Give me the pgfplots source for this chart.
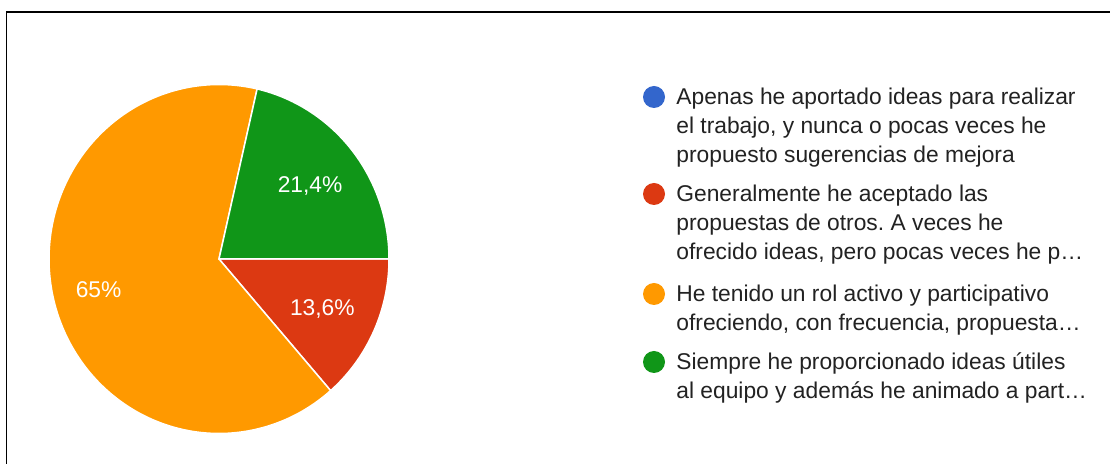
\documentclass[border=0pt]{standalone}
\usepackage{fontspec}
\setmainfont{Liberation Sans}
\usepackage{pgfplots}
\usepackage{pgfplotstable}
\pgfplotsset{compat=1.18}
\definecolor{gBlue}{HTML}{3366CC}
\definecolor{gRed}{HTML}{DC3912}
\definecolor{gOrange}{HTML}{FF9900}
\definecolor{gGreen}{HTML}{109618}
\definecolor{txt}{HTML}{222222}
\frenchspacing

% share of answers per option (percent), label radius
\pgfplotstableread{
pct  lr
0    0.69
13.6 0.668
65   0.73
21.4 0.685
}\piedata

\pgfplotstablegetelem{0}{pct}\of\piedata \let\pA\pgfplotsretval
\pgfplotstablegetelem{1}{pct}\of\piedata \let\pB\pgfplotsretval
\pgfplotstablegetelem{2}{pct}\of\piedata \let\pC\pgfplotsretval
\pgfplotstablegetelem{3}{pct}\of\piedata \let\pD\pgfplotsretval
\pgfplotstablegetelem{1}{lr}\of\piedata \let\lB\pgfplotsretval
\pgfplotstablegetelem{2}{lr}\of\piedata \let\lC\pgfplotsretval
\pgfplotstablegetelem{3}{lr}\of\piedata \let\lD\pgfplotsretval

% slices start at 3 o'clock and run clockwise
\pgfmathsetmacro\aBs{-3.6*\pA}
\pgfmathsetmacro\aCs{\aBs-3.6*\pB}
\pgfmathsetmacro\aDs{\aCs-3.6*\pC}
\pgfmathsetmacro\aDe{\aDs-3.6*\pD}
\pgfmathsetmacro\mB{(\aBs+\aCs)/2}
\pgfmathsetmacro\mC{(\aCs+\aDs)/2}
\pgfmathsetmacro\mD{(\aDs+\aDe)/2}

\newcommand\lblfont{\fontsize{11.4pt}{14.5pt}\selectfont}

\begin{document}
\begin{tikzpicture}
\useasboundingbox (0,0) rectangle (555pt,-232pt);
\fill[white] (0,0) rectangle (555pt,-232pt);

\begin{axis}[at={(109.5pt,-129.5pt)}, anchor=center,
  x=85pt, y=87.25pt, xmin=-1, xmax=1, ymin=-1, ymax=1,
  hide axis, clip=false,
  every axis plot/.append style={draw=white, line width=0.75pt, variable=\t}]
  \addplot[fill=gRed, domain=\aCs:\aBs, samples=60] ({cos(\t)},{sin(\t)}) -- (0,0) -- cycle;
  \addplot[fill=gOrange, domain=\aDs:\aCs, samples=180] ({cos(\t)},{sin(\t)}) -- (0,0) -- cycle;
  \addplot[fill=gGreen, domain=\aDe:\aDs, samples=80] ({cos(\t)},{sin(\t)}) -- (0,0) -- cycle;

  \node[anchor=base, inner sep=0, text=white, font=\lblfont, yshift=-4pt]
    at (axis cs:{\lB*cos(\mB)},{\lB*sin(\mB)}) {\pgfmathprintnumber[use comma,assume math mode=true]{\pB}\%};
  \node[anchor=base, inner sep=0, text=white, font=\lblfont, yshift=-4pt]
    at (axis cs:{\lC*cos(\mC)},{\lC*sin(\mC)}) {\pgfmathprintnumber[use comma,assume math mode=true]{\pC}\%};
  \node[anchor=base, inner sep=0, text=white, font=\lblfont, yshift=-4pt]
    at (axis cs:{\lD*cos(\mD)},{\lD*sin(\mD)}) {\pgfmathprintnumber[use comma,assume math mode=true]{\pD}\%};
\end{axis}

% legend and frame, in pixel units of the reference
\begin{scope}[x=0.5pt, y=-0.5pt, every node/.style={anchor=base west, inner sep=0, text=txt, font=\lblfont}]
  \draw[line width=0.7pt, black] (6.5,464) -- (6.5,12) -- (1110,12);

  \fill[gBlue] (654,97) circle[radius=5.5pt];
  \node at (676,105) {Apenas he aportado ideas para realizar};
  \node at (676,134) {el trabajo, y nunca o pocas veces he};
  \node at (676,163) {propuesto sugerencias de mejora};

  \fill[gRed] (654,194) circle[radius=5.5pt];
  \node at (676,202) {Generalmente he aceptado las};
  \node at (676,231) {propuestas de otros. A veces he};
  \node at (676,260) {ofrecido ideas, pero pocas veces he p\ldots};

  \fill[gOrange] (654,294) circle[radius=5.5pt];
  \node at (676,302) {He tenido un rol activo y participativo};
  \node at (676,331) {ofreciendo, con frecuencia, propuesta\ldots};

  \fill[gGreen] (654,362) circle[radius=5.5pt];
  \node at (676,370) {Siempre he proporcionado ideas útiles};
  \node at (676,399) {al equipo y además he animado a part\ldots};
\end{scope}
\end{tikzpicture}
\end{document}
